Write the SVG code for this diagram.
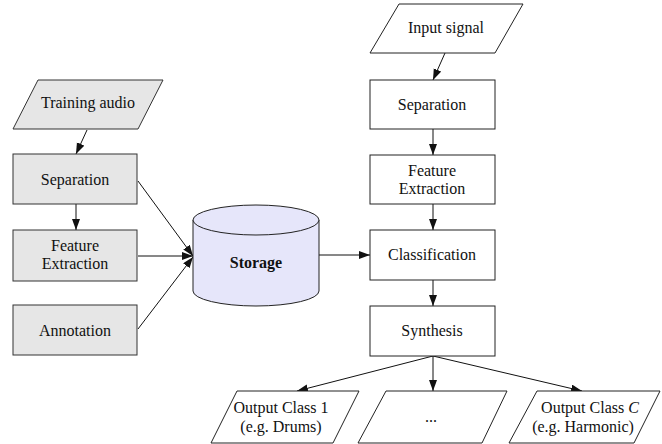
<svg xmlns="http://www.w3.org/2000/svg" width="662" height="444" viewBox="0 0 662 444">
<style>
text{font-family:"Liberation Serif","Times New Roman",serif;font-size:16px;fill:#111;text-anchor:middle}
.g{fill:#e6e6e6;stroke:#333;stroke-width:1}
.w{fill:#fff;stroke:#222;stroke-width:1}
.c{fill:none;stroke:#111;stroke-width:1;marker-end:url(#ah)}
</style>
<defs>
<marker id="ah" markerUnits="userSpaceOnUse" markerWidth="12" markerHeight="10" refX="11" refY="4" orient="auto">
<path d="M0,0 L11,4 L0,8 Z" fill="#111"/>
</marker>
</defs>
<rect width="662" height="444" fill="#fff"/>
<g id="connectors">
<line class="c" x1="87" y1="130" x2="76" y2="154"/>
<line class="c" x1="76" y1="204" x2="76" y2="230"/>
<line class="c" x1="138" y1="181" x2="193" y2="256"/>
<line class="c" x1="138" y1="256" x2="193" y2="256"/>
<line class="c" x1="138" y1="329" x2="193" y2="257"/>
<line class="c" x1="319" y1="255" x2="370" y2="255"/>
<line class="c" x1="445" y1="53" x2="433" y2="80"/>
<line class="c" x1="433" y1="129" x2="433" y2="155"/>
<line class="c" x1="433" y1="204" x2="433" y2="230"/>
<line class="c" x1="433" y1="280" x2="433" y2="306"/>
<line class="c" x1="433" y1="356" x2="297" y2="391"/>
<line class="c" x1="433" y1="356" x2="433" y2="391"/>
<line class="c" x1="433" y1="356" x2="582" y2="391"/>
</g>
<g id="training">
<polygon class="g" points="38,80 163,80 138,129 13,129"/>
<text x="88" y="108">Training audio</text>
</g>
<g id="sep-l">
<rect class="g" x="13" y="154" width="124" height="50"/>
<text x="75" y="185">Separation</text>
</g>
<g id="feat-l">
<rect class="g" x="13" y="230" width="124" height="51"/>
<text x="75" y="251">Feature</text>
<text x="75" y="269">Extraction</text>
</g>
<g id="annot">
<rect class="g" x="13" y="305" width="124" height="50"/>
<text x="75" y="336">Annotation</text>
</g>
<g id="storage">
<path d="M193,220 L193,291 A63,15 0 0 0 319,291 L319,220" fill="#e6e6fa" stroke="#222" stroke-width="1"/>
<ellipse cx="256" cy="220" rx="63" ry="15" fill="#e6e6fa" stroke="#222" stroke-width="1"/>
<text x="256" y="268" font-weight="bold">Storage</text>
</g>
<g id="input">
<polygon class="w" points="399,4 523,4 495,53 370,53"/>
<text x="446" y="33">Input signal</text>
</g>
<g id="sep-r">
<rect class="w" x="370" y="80" width="125" height="49"/>
<text x="432" y="110">Separation</text>
</g>
<g id="feat-r">
<rect class="w" x="370" y="155" width="125" height="49"/>
<text x="432" y="176">Feature</text>
<text x="432" y="194">Extraction</text>
</g>
<g id="class">
<rect class="w" x="370" y="230" width="125" height="50"/>
<text x="432" y="260">Classification</text>
</g>
<g id="synth">
<rect class="w" x="370" y="306" width="125" height="50"/>
<text x="432" y="336">Synthesis</text>
</g>
<g id="out1">
<polygon class="w" points="237,391 359,391 333,443 211,443"/>
<text x="281" y="413">Output Class 1</text>
<text x="281" y="432">(e.g. Drums)</text>
</g>
<g id="outdots">
<polygon class="w" points="386,391 507,391 482,443 358,443"/>
<text x="431" y="422">...</text>
</g>
<g id="outC">
<polygon class="w" points="537,391 660,391 634,443 509,443"/>
<text x="590" y="413">Output Class <tspan font-style="italic">C</tspan></text>
<text x="583" y="432">(e.g. Harmonic)</text>
</g>
</svg>
